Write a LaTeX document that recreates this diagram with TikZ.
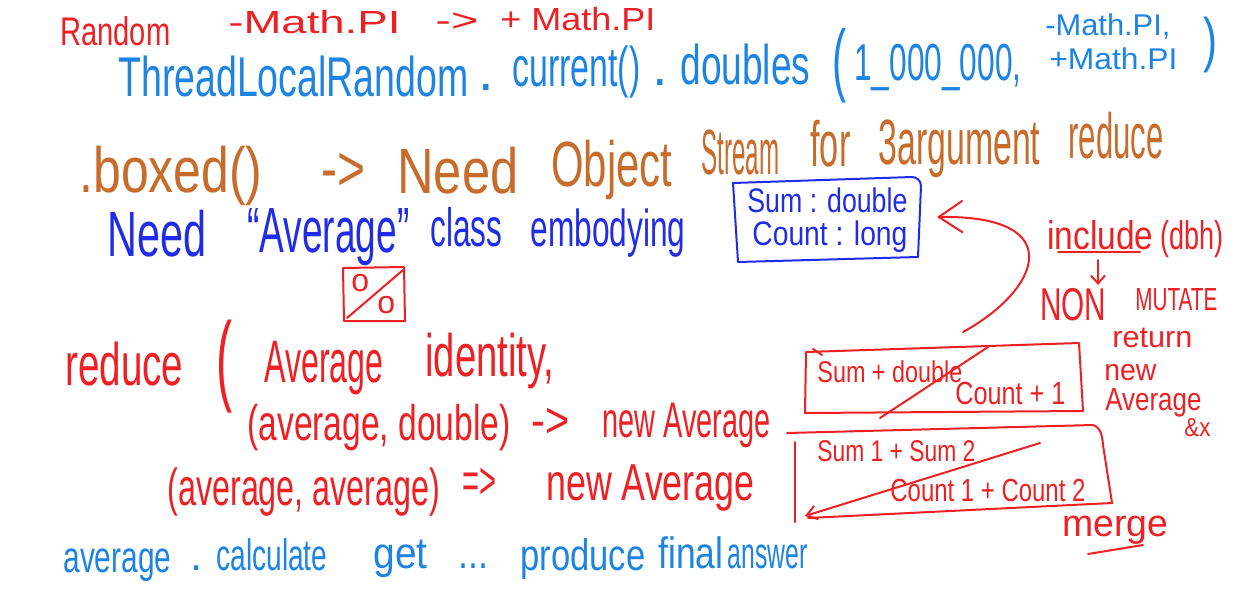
\documentclass[tikz,border=0pt]{standalone}
\usepackage{fontspec}
\setmainfont{Liberation Sans}
\usepackage{graphicx}
\usetikzlibrary{arrows.meta}
\newlength\px \setlength\px{0.5pt}
\newcommand\fw[2]{\resizebox{#1\px}{\height}{#2}}
\definecolor{hred}{RGB}{238,32,36}
\definecolor{lblue}{RGB}{30,132,228}
\definecolor{orng}{RGB}{200,108,44}
\definecolor{dblue}{RGB}{32,44,232}
\begin{document}
\begin{tikzpicture}[x=0.5pt,y=-0.5pt,
  txt/.style={inner sep=0pt, anchor=base west},
  fs/.style={font=\fontsize{#1}{#1}\selectfont},
  ink/.style={line width=1pt, line cap=round, line join=round},
  R/.style={txt,text=hred},
  B/.style={txt,text=lblue},
  O/.style={txt,text=orng},
  D/.style={txt,text=dblue}]
\useasboundingbox[fill=white] (0,0) rectangle (1240,590);

% line 1
\node[R,fs=20] (random) at (60,45) {\fw{110}{Random}};
\node[R,fs=16] (mpi1) at (228,33) {\fw{172}{-Math.PI}};
\node[R,fs=16] (arr1) at (435,31) {\fw{43}{->}};
\node[R,fs=16] (mpi2) at (500,30) {\fw{155}{+ Math.PI}};

% line 2
\node[B,fs=28] (tlr) at (118,96) {\fw{350}{ThreadLocalRandom}};
\node[B,fs=28] (dot1) at (478,90) {.};
\node[B,fs=28] (cur) at (512,86) {\fw{128}{current()}};
\node[B,fs=28] (dot2) at (652,85) {.};
\node[B,fs=28] (dbl) at (680,84) {\fw{130}{doubles}};
\node[B,fs=40] (lp) at (832,86) {\fw{14}{(}};
\node[B,fs=26] (mil) at (854,80) {\fw{167}{1\_000\_000,}};
\node[B,fs=15] (lo) at (1045,35) {\fw{125}{-Math.PI,}};
\node[B,fs=15] (hi) at (1049,69) {\fw{128}{+Math.PI}};
\node[B,fs=30] (rp) at (1203,60) {\fw{14}{)}};

% line 3
\node[O,fs=32] (boxed) at (79,192) {\fw{183}{.boxed()}};
\node[O,fs=32] (arr2) at (321,190) {\fw{44}{->}};
\node[O,fs=32] (need1) at (397,193) {\fw{121}{Need}};
\node[O,fs=32] (obj) at (551,186) {\fw{121}{Object}};
\node[O,fs=32] (stream) at (701,174) {\fw{78}{Stream}};
\node[O,fs=32] (for) at (810,166) {\fw{40}{for}};
\node[O,fs=32] (arg) at (878,164) {\fw{162}{3argument}};
\node[O,fs=32] (red1) at (1068,158) {\fw{95}{reduce}};

% line 4
\node[D,fs=32] (need2) at (107,256) {\fw{99}{Need}};
\node[D,fs=32] (avg1) at (247,252) {\fw{162}{``Average''}};
\node[D,fs=27] (class) at (430,246) {\fw{72}{class}};
\node[D,fs=26] (emb) at (530,246) {\fw{155}{embodying}};

% blue box
\node[D,fs=17] (sum) at (747,212) {\fw{160}{Sum : double}};
\node[D,fs=17] (cnt) at (752,245) {\fw{155}{Count : long}};
\draw[ink,dblue] (733,183) -- (912,177) to[out=0,in=90] (921,186) -- (918,257) -- (738,262) -- cycle;

% percent box
\draw[ink,hred] (343,268) -- (404,267) -- (405,321) -- (344,321) -- cycle;
\draw[ink,hred] (347,318) -- (403,270);
\node[R,fs=16] (o1) at (351,291) {o};
\node[R,fs=16] (o2) at (377,313) {o};

% line 5
\node[R,fs=30] (reduce) at (65,385) {\fw{118}{reduce}};
\node[R,fs=50] (lp2) at (216,392) {\fw{16}{(}};
\node[R,fs=30] (avg2) at (264,382) {\fw{119}{Average}};
\node[R,fs=30] (ident) at (425,376) {\fw{129}{identity,}};

% line 6
\node[R,fs=25] (l6a) at (247,440) {\fw{263}{(average, double)}};
\node[R,fs=25] (arr3) at (531,437) {\fw{38}{->}};
\node[R,fs=25] (new1) at (602,437) {\fw{168}{new Average}};

% line 7
\node[R,fs=26] (l7a) at (167,505) {\fw{273}{(average, average)}};
\node[R,fs=26] (arr4) at (462,498) {\fw{34}{=>}};
\node[R,fs=26] (new2) at (546,500) {\fw{208}{new Average}};

% line 8
\node[B,fs=22] (avg3) at (63,572) {\fw{108}{average}};
\node[B,fs=22] (dot3) at (190,570) {.};
\node[B,fs=22] (calc) at (216,570) {\fw{111}{calculate}};
\node[B,fs=22] (get) at (373,568) {\fw{54}{get}};
\node[B,fs=22] (dots) at (458,568) {\fw{30}{...}};
\node[B,fs=22] (prod) at (520,570) {\fw{125}{produce}};
\node[B,fs=22] (final) at (658,568) {\fw{65}{final}};
\node[B,fs=22] (ans) at (727,568) {\fw{80}{answer}};

% right side
\node[R,fs=20] (incl) at (1047,249) {\fw{106}{include}};
\node[R,fs=20] (dbh) at (1160,249) {\fw{63}{(dbh)}};
\coordinate (ul1) at (1058,252);
\coordinate (ul2) at (1140,252);
\draw[ink,hred] (ul1) -- (ul2);
\coordinate (da1) at (1098,260);
\coordinate (da2) at (1098,285);
\draw[ink,hred,-{Straight Barb[length=4pt,width=7pt]}] (da1) -- (da2);
\node[R,fs=23] (non) at (1040,320) {\fw{66}{NON}};
\node[R,fs=16] (mut) at (1135,310) {\fw{82}{MUTATE}};
\node[R,fs=15] (ret) at (1112,347) {\fw{80}{return}};
\node[R,fs=15] (new3) at (1104,380) {\fw{52}{new}};
\node[R,fs=16] (avg4) at (1105,410) {\fw{96}{Average}};
\node[R,fs=13] (amp) at (1184,436) {\fw{26}{\&x}};

% box 1
\draw[ink,hred] (806,352) -- (1079,343) -- (1083,411) -- (805,413) -- cycle;
\draw[ink,hred] (813,349) -- (822,355);
\draw[ink,hred] (988,347) -- (880,418);
\node[R,fs=15] (b1a) at (817,382) {\fw{145}{Sum + double}};
\node[R,fs=16] (b1b) at (955,404) {\fw{110}{Count + 1}};

% box 2
\draw[ink,hred] (787,433) -- (1093,425) to[out=-20,in=95] (1103,445) -- (1112,503) -- (808,518);
\draw[ink,hred] (795,442) -- (795,522);
\coordinate (d2a) at (1040,443);
\coordinate (d2b) at (805,516);
\draw[ink,hred,-{Straight Barb[length=5pt,width=7pt]}] (d2a) -- (d2b);
\node[R,fs=15] (b2a) at (817,461) {\fw{158}{Sum 1 + Sum 2}};
\node[R,fs=16] (b2b) at (890,501) {\fw{195}{Count 1 + Count 2}};
\node[R,fs=19] (merge) at (1062,536) {\fw{106}{merge}};
\coordinate (mu1) at (1088,554);
\coordinate (mu2) at (1143,545);
\draw[ink,hred] (mu1) -- (mu2);

% curved arrow
\coordinate (cs) at (963,332);
\coordinate (ce) at (937,217);
\draw[ink,hred,-{Straight Barb[length=12pt,width=16pt]}] (cs) .. controls (1040,290) and (1070,215) .. (ce);
\end{tikzpicture}
\end{document}
